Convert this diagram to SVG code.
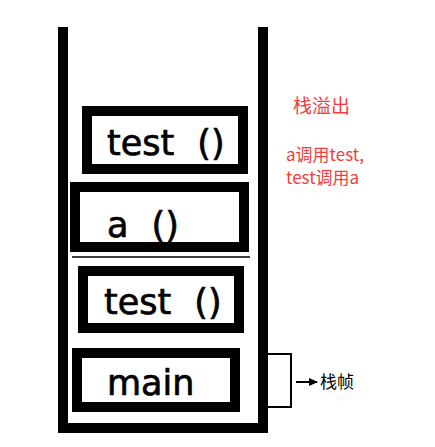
<svg xmlns="http://www.w3.org/2000/svg" width="435" height="447" viewBox="0 0 435 447">
<style>
.frame{fill:#fff;stroke:#000;stroke-width:10}
.ft{font-family:"DejaVu Sans",sans-serif;font-size:35px;fill:#000;stroke:#000;stroke-width:0.7;word-spacing:12px}
.red{font-family:"Noto Sans CJK SC",sans-serif;fill:#f53c3c}
.lbl{font-family:"Noto Sans CJK SC",sans-serif;font-size:17px;fill:#000}
</style>
<defs>
<marker id="ah" markerWidth="9" markerHeight="8" refX="8" refY="4" orient="auto" markerUnits="userSpaceOnUse">
<path d="M0,0 L9,4 L0,8 z" fill="#000"/>
</marker>
</defs>
<rect width="435" height="447" fill="#fff"/>
<g id="stack">
<path d="M63,27 V428 H263 V27" fill="none" stroke="#000" stroke-width="10"/>
</g>
<g id="frame-test1">
<rect class="frame" x="87" y="111" width="156" height="58"/>
<text class="ft" x="107" y="155">test ()</text>
</g>
<g id="frame-a">
<rect class="frame" x="75" y="187" width="169" height="60"/>
<text class="ft" x="107" y="237">a ()</text>
</g>
<g id="divider">
<line x1="72" y1="257" x2="250" y2="257" stroke="#000" stroke-width="1.5"/>
</g>
<g id="frame-test2">
<rect class="frame" x="83" y="271" width="156" height="57"/>
<text class="ft" x="104" y="314">test ()</text>
</g>
<g id="frame-main">
<rect class="frame" x="77" y="353" width="158" height="54"/>
<text class="ft" x="107" y="395">main</text>
</g>
<g id="note">
<text class="red" x="293" y="113" font-size="19">栈溢出</text>
<text class="red" x="286" y="161" font-size="17">a调用test,</text>
<text class="red" x="286" y="184" font-size="17">test调用a</text>
</g>
<g id="connectors">
<path d="M268,354 H291 V407 H268" fill="none" stroke="#000" stroke-width="2"/>
<line x1="296" y1="382" x2="317" y2="382" stroke="#000" stroke-width="2" marker-end="url(#ah)"/>
</g>
<g id="frame-label">
<text class="lbl" x="320" y="388">栈帧</text>
</g>
</svg>
